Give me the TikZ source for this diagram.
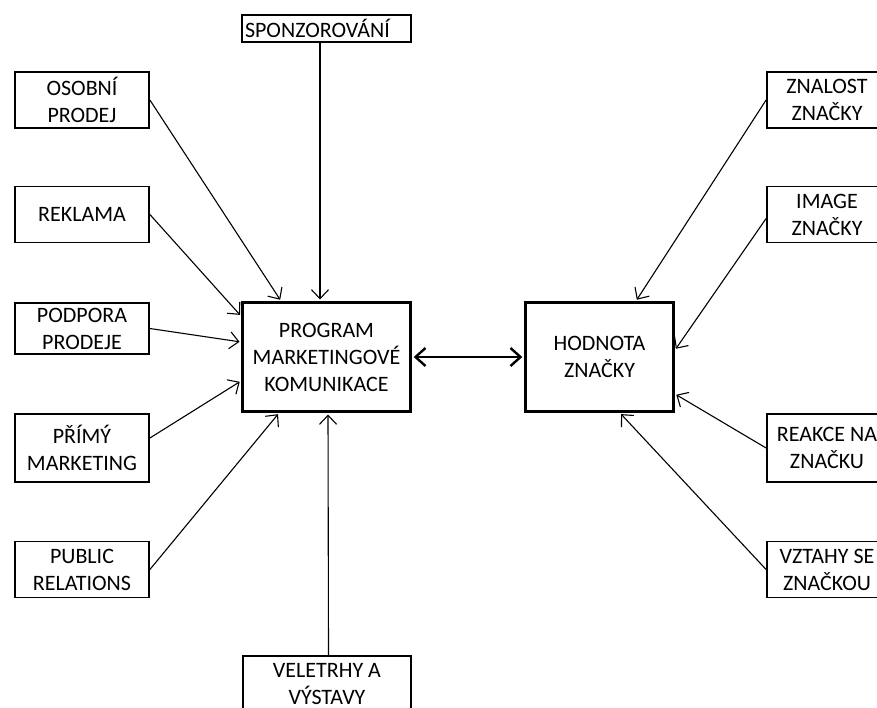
\documentclass[tikz,border=0pt]{standalone}
\usepackage{fontspec}
\setmainfont{Carlito}
\usepackage{tikz}
\usetikzlibrary{arrows.meta, positioning}
\tikzset{
	inbox/.style={rectangle, draw=black, line width=1.8pt, minimum width=134pt, minimum height=56pt, text centered, align=center, inner sep=1pt},
	outbox/.style={inbox, minimum width=120pt},
	mainbox/.style={rectangle, draw=black, line width=3.4pt, minimum height=108.6pt, text centered, align=center, inner sep=1pt},
	% thin arrows into the two main boxes
	feedarrow/.style={-{Straight Barb[length=9pt, width=17pt]}, line width=1.1pt, shorten >=1.5pt},
	linkarrow/.style={{Straight Barb[length=10pt, width=18pt]}-{Straight Barb[length=10pt, width=18pt]}, line width=2.4pt, shorten <=1.7pt, shorten >=1.7pt},
}
\begin{document}
\begin{tikzpicture}[x=1pt, y=-1pt, font=\fontsize{22}{27}\selectfont]
	\clip (0,0) rectangle (877,707);
	\node[inbox] (osobni) at (82,100) {OSOBNÍ\\PRODEJ};
	\node[inbox] (reklama) at (82,214.5) {REKLAMA};
	\node[inbox, minimum height=51pt] (podpora) at (82,328.5) {PODPORA\\PRODEJE};
	\node[inbox, minimum height=68pt] (primy) at (82,448) {PŘÍMÝ\\MARKETING};
	\node[inbox] (public) at (82,569.5) {PUBLIC\\RELATIONS};
	\node[inbox, minimum width=169pt, minimum height=27pt, text width=163pt, align=left, inner sep=3pt] (sponz) at (326.5,28.5) {SPONZOROVÁNÍ};
	\node[inbox, minimum width=168pt] (velet) at (327,684) {VELETRHY A\\VÝSTAVY};
	\node[mainbox, minimum width=167.6pt] (program) at (326.5,357) {PROGRAM\\MARKETINGOVÉ\\KOMUNIKACE};
	\node[mainbox, minimum width=147.6pt] (hodnota) at (599.5,357) {HODNOTA\\ZNAČKY};
	\node[outbox] (znalost) at (827,100) {ZNALOST\\ZNAČKY};
	\node[outbox] (image) at (827,214.5) {IMAGE\\ZNAČKY};
	\node[outbox, minimum height=68pt] (reakce) at (827,448) {REAKCE NA\\ZNAČKU};
	\node[outbox] (vztahy) at (827,569.5) {VZTAHY SE\\ZNAČKOU};
	\draw[feedarrow] (osobni.east) -- ([xshift=-45.5pt]program.north);
	\draw[feedarrow] (reklama.east) -- ([yshift=41pt]program.west);
	\draw[feedarrow] (podpora.east) -- ([yshift=15pt]program.west);
	\draw[feedarrow] ([yshift=10pt]primy.east) -- ([yshift=-24pt]program.west);
	\draw[feedarrow] (public.east) -- ([xshift=-47.5pt]program.south);
	\draw[feedarrow] ([xshift=-6.5pt]sponz.south) -- ([xshift=-6.5pt]program.north);
	\draw[feedarrow] ([xshift=1.5pt]velet.north) -- ([xshift=1.5pt]program.south);
	\draw[linkarrow] (program) -- (hodnota);
	\draw[feedarrow] (znalost.west) -- ([xshift=36.5pt]hodnota.north);
	\draw[feedarrow] ([yshift=-4pt]image.west) -- ([yshift=7pt]hodnota.east);
	\draw[feedarrow] (reakce.west) -- ([yshift=-37pt]hodnota.east);
	\draw[feedarrow] (vztahy.west) -- ([xshift=20.5pt]hodnota.south);
\end{tikzpicture}
\end{document}
